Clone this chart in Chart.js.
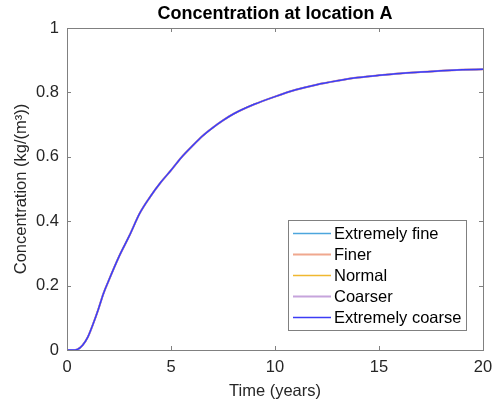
<!DOCTYPE html>
<html>
<head>
<meta charset="utf-8">
<script src="https://cdn.jsdelivr.net/npm/chart.js@4"></script>
<style>
  html,body{margin:0;padding:0;background:#fff;}
  #wrap{width:493px;height:405px;}
</style>
</head>
<body>
<div id="wrap"><canvas id="ch-conc" width="493" height="405"></canvas></div>
<script>
'use strict';

// data
const timeYears = [0,0.25,0.5,0.75,1,1.25,1.5,1.75,2,2.5,3,3.5,4,4.5,5,5.5,6,6.5,7,7.5,8,9,10,11,12,13,14,15,16,17,18,19,20];
const concA = [0,0,0.002,0.015,0.04,0.08,0.125,0.175,0.215,0.29,0.355,0.425,0.476,0.52,0.558,0.598,0.632,0.664,0.69,0.713,0.733,0.763,0.787,0.808,0.824,0.836,0.846,0.853,0.859,0.863,0.867,0.87,0.872];
const seriesNames = ['Extremely fine','Finer','Normal','Coarser','Extremely coarse'];
const seriesColors = ['#4da6dd','#f0a88e','#f0b830','#c6a4dc','#3c3cf5'];
const seriesWidths = [1.5,2,1.5,2,1.5];
const xTicks = [0,5,10,15,20];
const yTicks = [0,0.2,0.4,0.6,0.8,1];

const FONT = "'Liberation Sans', Arial, sans-serif";
const FS = 16.5;
const AXIS_GRAY = '#808080';
const TXT = '#262626';

// matlab style box, inward ticks, title and legend
const matlabAxes = {
  id:'matlabAxes',
  afterDraw(chart){
    const {ctx, chartArea:a, scales:{x,y}} = chart;
    ctx.save();
    ctx.strokeStyle = AXIS_GRAY; ctx.lineWidth = 1;
    ctx.strokeRect(Math.round(a.left)+0.5, Math.round(a.top)+0.5, Math.round(a.right-a.left), Math.round(a.bottom-a.top));
    ctx.beginPath();
    xTicks.forEach(v=>{
      const px = Math.round(x.getPixelForValue(v))+0.5;
      ctx.moveTo(px,a.bottom); ctx.lineTo(px,a.bottom-4);
      ctx.moveTo(px,a.top); ctx.lineTo(px,a.top+4);
    });
    yTicks.forEach(v=>{
      const py = Math.round(y.getPixelForValue(v))+0.5;
      ctx.moveTo(a.left,py); ctx.lineTo(a.left+4,py);
      ctx.moveTo(a.right,py); ctx.lineTo(a.right-4,py);
    });
    ctx.stroke();

    // title
    ctx.fillStyle = '#000';
    ctx.font = "bold 18px " + FONT;
    ctx.textAlign = 'center'; ctx.textBaseline = 'middle';
    ctx.fillText('Concentration at location A', (a.left+a.right)/2, 14);

    // legend box
    const lx = 288, ly = 220, lw = 178, lh = 110, rowH = 21;
    ctx.fillStyle = '#fff';
    ctx.fillRect(lx, ly, lw, lh);
    ctx.strokeStyle = AXIS_GRAY; ctx.lineWidth = 1;
    ctx.strokeRect(lx+0.5, ly+0.5, lw, lh);
    ctx.font = FS + "px " + FONT;
    ctx.textAlign = 'left';
    chart.data.datasets.forEach((ds,i)=>{
      const cy = ly + 13 + i*rowH;
      ctx.strokeStyle = ds.borderColor; ctx.lineWidth = ds.borderWidth;
      ctx.beginPath(); ctx.moveTo(293,cy+0.5); ctx.lineTo(331,cy+0.5); ctx.stroke();
      ctx.fillStyle = '#000';
      ctx.fillText(ds.label, 334, cy+1);
    });
    ctx.restore();
  }
};

new Chart(document.getElementById('ch-conc'),{
  type:'line',
  data:{datasets: seriesNames.map((name,i)=>({
    label:name,
    data:timeYears.map((t,k)=>({x:t,y:concA[k]})),
    borderColor:seriesColors[i],
    borderWidth:seriesWidths[i],
    order:seriesNames.length-1-i,
    pointRadius:0,
    cubicInterpolationMode:'monotone',
    fill:false
  }))},
  options:{
    responsive:false, animation:false,
    layout:{padding:{left:0,right:10,top:28,bottom:0}},
    plugins:{legend:{display:false},title:{display:false},tooltip:{enabled:false}},
    scales:{
      x:{type:'linear',min:0,max:20,
        grid:{display:false,drawTicks:false},border:{display:false},
        afterBuildTicks:s=>{s.ticks = xTicks.map(v=>({value:v}));},
        afterFit:s=>{s.height = 55; s.paddingLeft = 0; s.paddingRight = 0;},
        ticks:{color:TXT,font:{family:FONT,size:FS},padding:8,maxRotation:0,callback:v=>String(v)},
        title:{display:true,text:'Time (years)',color:TXT,font:{family:FONT,size:FS},padding:{top:4}}
      },
      y:{type:'linear',min:0,max:1,
        grid:{display:false,drawTicks:false},border:{display:false},
        afterBuildTicks:s=>{s.ticks = yTicks.map(v=>({value:v}));},
        afterFit:s=>{s.width = 67; s.paddingTop = 0; s.paddingBottom = 0;},
        ticks:{color:TXT,font:{family:FONT,size:FS},padding:8,callback:v=>String(v)},
        title:{display:true,text:'Concentration (kg/(m³))',color:TXT,font:{family:FONT,size:FS},padding:{top:12}}
      }
    }
  },
  plugins:[matlabAxes]
});
</script>
</body>
</html>
